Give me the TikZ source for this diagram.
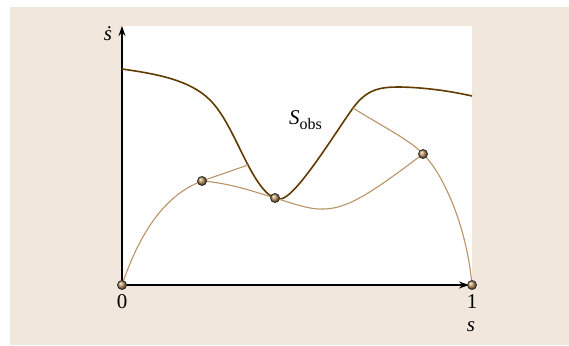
\documentclass[tikz,border=0pt]{standalone}
\usepackage{fontspec}
\setmainfont{Liberation Serif}
\usetikzlibrary{arrows.meta}
\definecolor{panel}{RGB}{241,231,220}
\definecolor{darkc}{RGB}{96,60,0}
\definecolor{lightc}{RGB}{186,148,104}
\definecolor{balltan}{RGB}{190,150,100}
\tikzset{
  ax/.style={line width=1.1pt,-{Stealth[length=10pt,width=7pt]}},
  obs/.style={darkc,line width=1.6pt},
  traj/.style={lightc,line width=1.1pt},
  ball/.style={circle,draw=black!85,line width=0.8pt,inner sep=0pt,minimum size=9pt,ball color=balltan},
  lab/.style={font=\fontsize{21}{22}\selectfont,inner sep=0pt}
}
\begin{document}
\begin{tikzpicture}[x=1pt,y=-1pt]
\useasboundingbox (0,0) rectangle (569,345);
\fill[panel] (10,7) rectangle (569,345);
\fill[white] (122,26) rectangle (472,285);
% axes
\coordinate (O) at (122,285);
\coordinate (ytip) at (122,26);
\coordinate (xtip) at (469,285);
\draw[ax] (O) -- (ytip);
\draw[ax] (O) -- (xtip);
% points
\coordinate (p0) at (122,285);
\coordinate (p1) at (202,181);
\coordinate (p2) at (275,198);
\coordinate (p3) at (423,154);
\coordinate (p4) at (472,285);
\coordinate (t1) at (248,165);
\coordinate (t2) at (353,108);
% obstacle curve
\draw[obs] (122,69) .. controls (157,74) and (190,80) .. (210,100)
  .. controls (225,115) and (235,140) .. (t1)
  .. controls (260,188) and (270,199) .. (280,199)
  .. controls (295,199) and (335,133) .. (t2)
  .. controls (367,89) and (380,87) .. (400,87)
  .. controls (425,87.5) and (450,91) .. (472,96);
% trajectories
\draw[traj] (p0) .. controls (140,232) and (165,195) .. (p1) -- (t1);
\draw[traj] (p1) .. controls (230,183) and (255,192) .. (p2) .. controls (295,204) and (310,210) .. (325,209) .. controls (350,208) and (375,190) .. (p3);
\draw[traj] (t2) .. controls (385,128) and (410,140) .. (p3) .. controls (440,170) and (466,220) .. (p4);
% balls
\foreach \p in {p0,p1,p2,p3,p4} \node[ball] (b\p) at (\p) {};
% labels
\node[lab] (l0) at (122,302) {0};
\node[lab] (l1) at (472,302) {1};
\node[lab] (ls) at (471,327) {\textit{s}};
\node[lab] (lsd) at (108,34) {\textit{ṡ}};
\node[lab,anchor=west] (lobs) at (289,120) {\textit{S}\raisebox{-0.45ex}{\fontsize{16}{17}\selectfont obs}};
\end{tikzpicture}
\end{document}
